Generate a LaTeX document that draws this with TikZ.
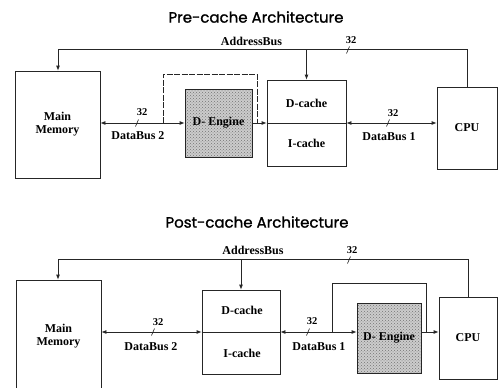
\documentclass[tikz,border=0pt]{standalone}
\usepackage{fontspec}
\setmainfont{Liberation Serif}
\newfontfamily\titlefont[FakeBold=1.2]{Poppins}
\usetikzlibrary{arrows.meta,patterns}
\begin{document}
\begin{tikzpicture}[x=1pt,y=-1pt,
  ln/.style={draw=black!85, line width=0.8pt},
  box/.style={ln, rectangle, inner sep=0pt, fill=white},
  engine/.style={ln, rectangle, inner sep=0pt, preaction={fill=gray!40}, pattern=crosshatch dots, pattern color=black!55},
  lbl/.style={font=\fontsize{12}{13}\selectfont\bfseries, align=center, inner sep=1pt},
  num/.style={font=\fontsize{10.5}{11}\selectfont\bfseries, inner sep=0pt},
  ttl/.style={font=\titlefont\fontsize{15}{16}\selectfont, inner sep=0pt},
  arr/.style={ln, -{Latex[length=5pt,width=4pt]}},
  darr/.style={ln, {Latex[length=5pt,width=4pt]}-{Latex[length=5pt,width=4pt]}},
  slash/.style={ln, line width=0.6pt}]
\useasboundingbox (0,0) rectangle (499,388);
\clip (0,0) rectangle (499,388);
\fill[white] (0,0) rectangle (499,388);

% ---------- Pre-cache ----------
\node[ttl] (t1) at (256,17) {Pre-cache Architecture};
\node[box, lbl, minimum width=85pt, minimum height=107pt] (mm1) at (57.5,124.5) {Main\\Memory};
\node[engine, lbl, minimum width=67pt, minimum height=68pt] (de1) at (218.5,123) {D- Engine};
\node[box, minimum width=79pt, minimum height=86pt] (ca1) at (306.5,123) {};
\draw[ln] (ca1.west) -- (ca1.east);
\node[lbl] (dc1) at (306.5,103) {D-cache};
\node[lbl] (ic1) at (306.5,143) {I-cache};
\node[box, lbl, minimum width=60pt, minimum height=82pt] (cpu1) at (467,128) {CPU};

\coordinate (ab1L) at (58,49);
\coordinate (ab1R) at (cpu1.north |- ab1L);
\draw[arr] (cpu1.north) -- (ab1R) -- (ab1L) -- (ab1L |- mm1.north);
\draw[arr] (ca1.north |- ab1L) -- (ca1.north);
\node[lbl] (ab1t) at (251.5,41) {AddressBus};
\coordinate (ab1s) at (348,50);
\draw[slash] ([shift={(-1.5,3.5)}]ab1s) -- ([shift={(1.5,-3.5)}]ab1s);
\node[num] (ab1n) at (351,40) {32};

\draw[darr] (de1.west -| mm1.east) -- (de1.west);
\coordinate (db21s) at (137,123);
\draw[slash] ([shift={(-1.5,3.5)}]db21s) -- ([shift={(1.5,-3.5)}]db21s);
\node[num] (db21n) at (142,112) {32};
\node[lbl] (db21t) at (138,136) {DataBus 2};

\coordinate (bp1a) at (163,123);
\coordinate (bp1b) at (257,74);
\draw[ln, dash pattern=on 6pt off 1.5pt] (bp1a) |- (bp1b) -- (bp1b |- bp1a);

\draw[arr] (de1.east) -- (de1.east -| ca1.west);
\draw[darr] (ca1.east) -- (ca1.east -| cpu1.west);
\coordinate (db11s) at (388,123);
\draw[slash] ([shift={(-1.5,3.5)}]db11s) -- ([shift={(1.5,-3.5)}]db11s);
\node[num] (db11n) at (393,113) {32};
\node[lbl] (db11t) at (389,137) {DataBus 1};

% ---------- Post-cache ----------
\node[ttl] (t2) at (257,222) {Post-cache Architecture};
\node[box, lbl, minimum width=85pt, minimum height=112pt] (mm2) at (58.5,336) {Main\\Memory};
\node[box, minimum width=78pt, minimum height=84pt] (ca2) at (241,332) {};
\draw[ln] (ca2.west) -- (ca2.east);
\node[lbl] (dc2) at (242,310) {D-cache};
\node[lbl] (ic2) at (242,353) {I-cache};
\node[engine, lbl, minimum width=64pt, minimum height=70pt] (de2) at (389,338) {D- Engine};
\node[box, lbl, minimum width=58pt, minimum height=82pt] (cpu2) at (468,338) {CPU};

\coordinate (ab2L) at (58,259);
\coordinate (ab2R) at (cpu2.north |- ab2L);
\draw[arr] (cpu2.north) -- (ab2R) -- (ab2L) -- (ab2L |- mm2.north);
\draw[arr] (ca2.north |- ab2L) -- (ca2.north);
\node[lbl] (ab2t) at (253,250) {AddressBus};
\coordinate (ab2s) at (349,260);
\draw[slash] ([shift={(-1.5,3.5)}]ab2s) -- ([shift={(1.5,-3.5)}]ab2s);
\node[num] (ab2n) at (352,250) {32};

\draw[darr] (ca2.west -| mm2.east) -- (ca2.west);
\coordinate (db22s) at (153,332);
\draw[slash] ([shift={(-1.5,3.5)}]db22s) -- ([shift={(1.5,-3.5)}]db22s);
\node[num] (db22n) at (158,322) {32};
\node[lbl] (db22t) at (151,347) {DataBus 2};

\draw[darr] (ca2.east) -- (ca2.east -| de2.west);
\coordinate (db12s) at (308,332);
\draw[slash] ([shift={(-1.5,3.5)}]db12s) -- ([shift={(1.5,-3.5)}]db12s);
\node[num] (db12n) at (312,321) {32};
\node[lbl] (db12t) at (319,347) {DataBus 1};

\draw[arr] (ca2.east -| de2.east) -- (ca2.east -| cpu2.west);
\coordinate (bp2a) at (332,332);
\coordinate (bp2b) at (426,283);
\draw[ln] (bp2a) |- (bp2b) -- (bp2b |- bp2a);
\end{tikzpicture}
\end{document}
